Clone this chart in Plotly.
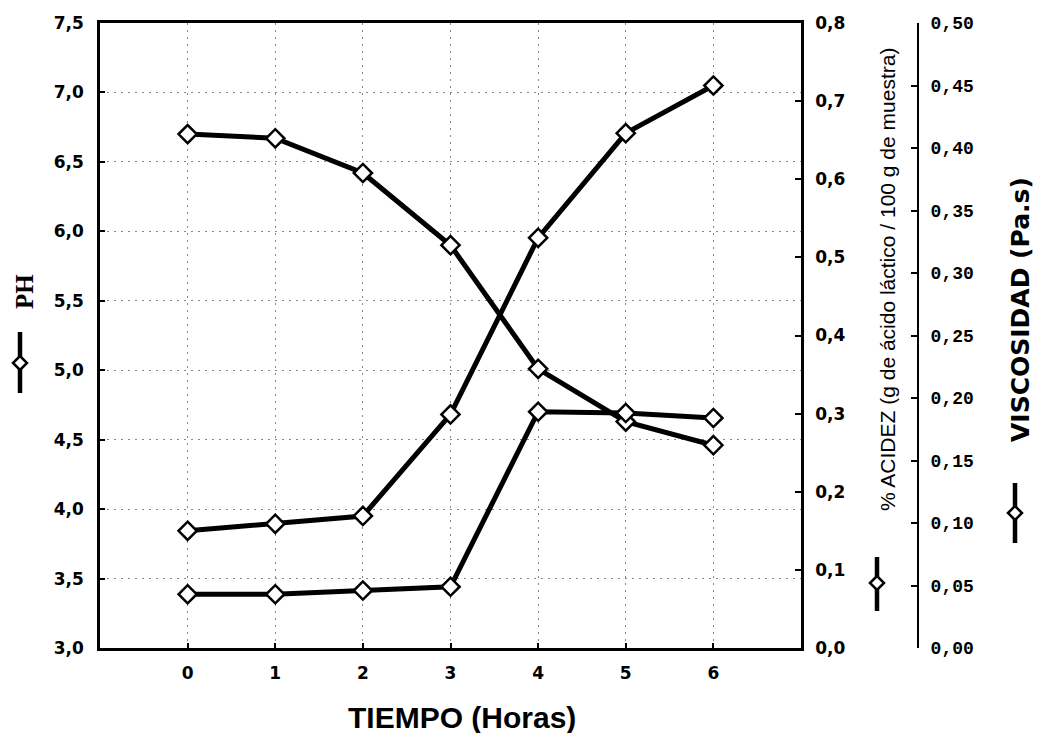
import plotly.graph_objects as go

# ---------------- data ----------------
tiempo = [0, 1, 2, 3, 4, 5, 6]
ph = [6.70, 6.67, 6.42, 5.90, 5.01, 4.63, 4.46]
acidez = [0.150, 0.159, 0.169, 0.299, 0.525, 0.659, 0.720]
viscosidad = [0.043, 0.043, 0.046, 0.049, 0.189, 0.188, 0.184]

x_ticks = [0, 1, 2, 3, 4, 5, 6]
ph_ticks = [3.0, 3.5, 4.0, 4.5, 5.0, 5.5, 6.0, 6.5, 7.0, 7.5]
acid_ticks = [0.0, 0.1, 0.2, 0.3, 0.4, 0.5, 0.6, 0.7, 0.8]
visc_ticks = [0.00, 0.05, 0.10, 0.15, 0.20, 0.25, 0.30, 0.35, 0.40, 0.45, 0.50]

x_title = "TIEMPO (Horas)"
ph_title = "PH"
acid_title = "% ACIDEZ (g de ácido láctico / 100 g de muestra)"
visc_title = "VISCOSIDAD (Pa.s)"

# ---------------- geometry ----------------
W, H = 1040, 733
L, R, T, B = 100, 10, 23, 85
PW = W - L - R
PH = H - T - B
PLOT_RIGHT = 801


def px(x):
    return (x - L) / PW


def py(y):
    return (H - B - y) / PH


def comma(v, n):
    return f"{v:.{n}f}".replace(".", ",")


line_style = dict(color="black", width=5)
marker_style = dict(symbol="diamond", size=14, color="white",
                    line=dict(color="black", width=2.5))

fig = go.Figure()
fig.add_trace(go.Scatter(x=tiempo, y=ph, mode="lines+markers", line=line_style,
                         marker=marker_style, yaxis="y", name="PH"))
fig.add_trace(go.Scatter(x=tiempo, y=acidez, mode="lines+markers", line=line_style,
                         marker=marker_style, yaxis="y2", name="% ACIDEZ"))
fig.add_trace(go.Scatter(x=tiempo, y=viscosidad, mode="lines+markers", line=line_style,
                         marker=marker_style, yaxis="y3", name="VISCOSIDAD"))

tick_font = dict(family="DejaVu Sans", size=17, color="black", weight="bold")
mono_font = dict(family="Liberation Mono, Courier New, monospace", size=18,
                 color="black", weight="bold")
grid = dict(showgrid=True, gridcolor="#888888", gridwidth=1, griddash="2px,5px")

fig.update_layout(
    width=W, height=H,
    margin=dict(l=L, r=R, t=T, b=B, pad=0),
    paper_bgcolor="white", plot_bgcolor="white",
    showlegend=False,
    xaxis=dict(domain=[0, px(PLOT_RIGHT)], range=[-1, 7], tickvals=x_ticks,
               ticktext=[str(v) for v in x_ticks], ticks="inside", ticklen=5,
               tickcolor="black", tickwidth=2,
               showline=True, linecolor="black", linewidth=2.5, mirror=True,
               zeroline=False, tickfont=tick_font, ticklabelstandoff=8, **grid),
    yaxis=dict(range=[3.0, 7.5], tickvals=ph_ticks,
               ticktext=[comma(v, 1) for v in ph_ticks], ticks="inside", ticklen=5,
               tickcolor="black", tickwidth=2,
               showline=True, linecolor="black", linewidth=2.5, mirror=True,
               zeroline=False, tickfont=tick_font, ticklabelstandoff=10, **grid),
    yaxis2=dict(overlaying="y", side="right", anchor="x", range=[0, 0.8],
                tickvals=acid_ticks, ticktext=[comma(v, 1) for v in acid_ticks],
                ticks="inside", ticklen=6, tickcolor="black", tickwidth=2,
                showline=True, linecolor="black", linewidth=2.5,
                showgrid=False, zeroline=False, tickfont=tick_font,
                ticklabelstandoff=8),
    yaxis3=dict(overlaying="y", side="right", anchor="free", position=px(918),
                range=[0, 0.5], tickvals=visc_ticks,
                ticktext=[comma(v, 2) for v in visc_ticks],
                ticks="inside", ticklen=6, tickcolor="black", tickwidth=2,
                showline=True, linecolor="black", linewidth=2,
                showgrid=False, zeroline=False, tickfont=mono_font,
                ticklabelstandoff=8),
)

annotations = [
    dict(text=x_title, x=px(462), y=py(717), xref="paper", yref="paper",
         showarrow=False, xanchor="center", yanchor="middle",
         font=dict(family="Liberation Sans, Arial", size=30, color="black", weight="bold")),
    dict(text=ph_title, x=px(24), y=py(292), xref="paper", yref="paper",
         showarrow=False, xanchor="center", yanchor="middle", textangle=-90,
         font=dict(family="Liberation Serif, Times New Roman", size=25, color="black",
                   weight="bold")),
    dict(text=acid_title, x=px(887), y=py(280), xref="paper", yref="paper",
         showarrow=False, xanchor="center", yanchor="middle", textangle=-90,
         font=dict(family="Liberation Sans Narrow, Arial Narrow, Liberation Sans",
                   size=21, color="black")),
    dict(text=visc_title, x=px(1020), y=py(310), xref="paper", yref="paper",
         showarrow=False, xanchor="center", yanchor="middle", textangle=-90,
         font=dict(family="DejaVu Sans", size=25, color="black", weight="bold")),
]

shapes = []
for (sx, sy0, sy1, dy) in [(20, 332, 393, 363), (877, 557, 611, 583), (1015, 483, 543, 513)]:
    shapes.append(dict(type="line", xref="paper", yref="paper",
                       x0=px(sx), x1=px(sx), y0=py(sy0), y1=py(sy1),
                       line=dict(color="black", width=4.5)))
    shapes.append(dict(type="path", xref="paper", yref="paper",
                       xsizemode="pixel", ysizemode="pixel",
                       xanchor=px(sx), yanchor=py(dy),
                       path="M -7 0 L 0 7 L 7 0 L 0 -7 Z",
                       fillcolor="white", line=dict(color="black", width=2.5)))

fig.update_layout(annotations=annotations, shapes=shapes)

fig.write_html("out.html", config={"displayModeBar": False},
               post_script="document.body.style.margin='0px';")
